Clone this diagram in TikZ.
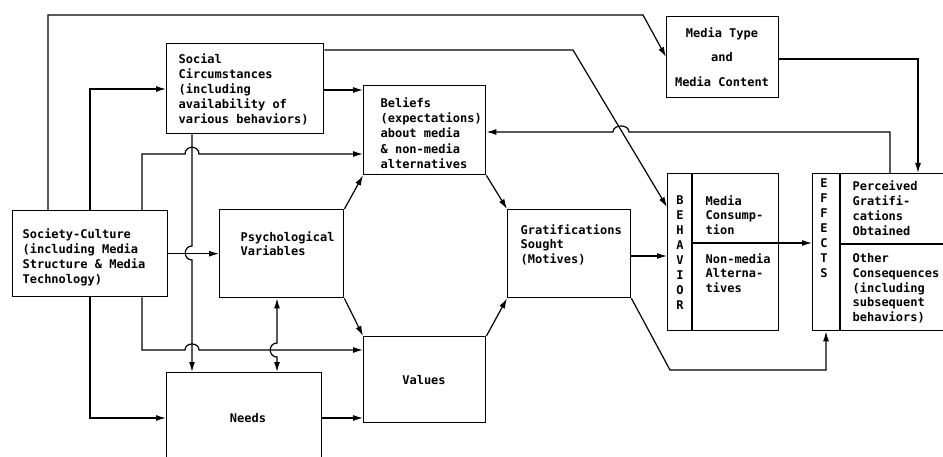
\documentclass[tikz,border=0pt]{standalone}
\usepackage{fontspec}
\setmainfont{DejaVu Sans Mono}
\usetikzlibrary{arrows.meta,calc}
\begin{document}
\begin{tikzpicture}[x=1pt,y=-1pt,
  line width=1.2pt,
  box/.style 2 args={draw, line width=1.4pt, anchor=north west, inner sep=0pt, minimum width=#1, minimum height=#2},
  txt/.style={anchor=north west, inner sep=0pt, align=left, font=\bfseries\fontsize{12}{#1}\selectfont},
  ctxt/.style={inner sep=0pt, align=center, font=\bfseries\fontsize{12}{#1}\selectfont},
  divider/.style={line width=1.4pt},
  arr/.style={-{Latex[length=10pt,width=6pt]}},
  darr/.style={{Latex[length=10pt,width=6pt]}-{Latex[length=10pt,width=6pt]}},
]
\useasboundingbox (0,0) rectangle (943,457);
\clip (0,0) rectangle (943,457);

% boxes
\node[box={155pt}{86pt}] (soc) at (12,210) {};
\node[box={157pt}{90pt}] (sci) at (166,43) {};
\node[box={122pt}{89pt}] (bel) at (363,85) {};
\node[box={112pt}{81pt}] (mt) at (666,16) {};
\node[box={124pt}{88pt}] (pv) at (219,209) {};
\node[box={123pt}{88pt}] (gs) at (507,209) {};
\node[box={122pt}{86pt}] (val) at (363,336) {};
\node[box={155pt}{100pt}] (need) at (166,372) {};
\node[box={111pt}{157pt}] (beh) at (667,173) {};
\node[box={143pt}{157pt}] (eff) at (812,173) {};

% dividers
\draw[divider] ($(beh.north west)+(25,0)$) -- ($(beh.south west)+(25,0)$);
\draw[divider] ($(beh.north west)+(25,70)$) -- ($(beh.north east)+(0,70)$);
\draw[divider] ($(eff.north west)+(28,0)$) -- ($(eff.south west)+(28,0)$);
\draw[divider] ($(eff.north west)+(28,71)$) -- ($(eff.north east)+(0,71)$);

% texts
\node[txt=15] (tsoc) at (22,228) {Society-Culture\\(including Media\\Structure \& Media\\Technology)};
\node[txt=15] (tsci) at (178,53) {Social\\Circumstances\\(including\\availability of\\various behaviors)};
\node[txt=15.3] (tbel) at (380,97) {Beliefs\\(expectations)\\about media\\\& non-media\\alternatives};
\node[ctxt=24.5, anchor=north] (tmt) at (722,27) {Media Type\\and\\Media Content};
\node[txt=14] (tpv) at (240,231) {Psychological\\Variables};
\node[txt=14.5] (tgs) at (520,224) {Gratifications\\Sought\\(Motives)};
\node[ctxt=15] (tval) at (424,380) {Values};
\node[ctxt=15] (tneed) at (248,418) {Needs};
\node[ctxt=15, anchor=north] (tbeh) at (680,195) {B\\E\\H\\A\\V\\I\\O\\R};
\node[txt=14.5] (tbeh1) at (705,195) {Media\\Consump-\\tion};
\node[txt=14.5] (tbeh2) at (705,253) {Non-media\\Alterna-\\tives};
\node[ctxt=15, anchor=north] (teff) at (824,178) {E\\F\\F\\E\\C\\T\\S};
\node[txt=15] (teff1) at (852,180) {Perceived\\Gratifi-\\cations\\Obtained};
\node[txt=14.75] (teff2) at (852,253) {Other\\Consequences\\(including\\subsequent\\behaviors)};

% connectors
\draw[arr] ($(soc.north west)+(36,0)$) -- (48,15) -- (643,15) -- ($(mt.north west)+(0,41)$);
\draw[arr] ($(soc.north west)+(78,0)$) |- ($(sci.north west)+(0,46)$);
\draw[arr] ($(soc.north west)+(130,0)$) -- (142,154) -- (185,154) .. controls (185,145) and (199,145) .. (199,154) -- ($(bel.north west)+(0,69)$);
\draw[arr] (soc.east) -- (pv.west);
\draw[arr] ($(sci.south west)+(26,0)$) -- (192,246) .. controls (183,246) and (183,260) .. (192,260) -- ($(need.north west)+(26,0)$);
\draw[arr] ($(sci.north east)+(0,47)$) -- ($(bel.north west)+(0,5)$);
\draw[arr] ($(sci.north east)+(0,7)$) -- (573,50) -- ($(beh.north west)+(0,34)$);
\draw[arr] ($(eff.north west)+(78,0)$) -- (890,132) -- (629,132) .. controls (629,124) and (613,124) .. (613,132) -- ($(bel.north east)+(0,47)$);
\draw[arr] ($(mt.north east)+(0,43)$) -| ($(eff.north west)+(106,0)$);
\draw[arr] (pv.north east) -- (bel.south west);
\draw[arr] (bel.south east) -- (gs.north west);
\draw[arr] (pv.south east) -- (val.north west);
\draw[arr] (val.north east) -- (gs.south west);
\draw[arr] ($(gs.north east)+(0,47)$) -- ($(beh.north west)+(0,83)$);
\draw[arr] ($(beh.north east)+(0,70)$) -- ($(eff.north west)+(0,70)$);
\draw[arr] (gs.south east) -- (670,370) -| ($(eff.south west)+(14,0)$);
\draw[arr] ($(soc.south west)+(130,0)$) -- (142,350) -- (185,350) .. controls (185,342) and (199,342) .. (199,350) -- ($(val.north west)+(0,14)$);
\draw[darr] ($(pv.south west)+(58,0)$) -- (277,343) .. controls (268,343) and (268,357) .. (277,357) -- ($(need.north west)+(111,0)$);
\draw[arr] ($(soc.south west)+(78,0)$) |- ($(need.north west)+(0,46)$);
\draw[arr] ($(need.north east)+(0,46)$) -- ($(val.north west)+(0,82)$);
\end{tikzpicture}
\end{document}
